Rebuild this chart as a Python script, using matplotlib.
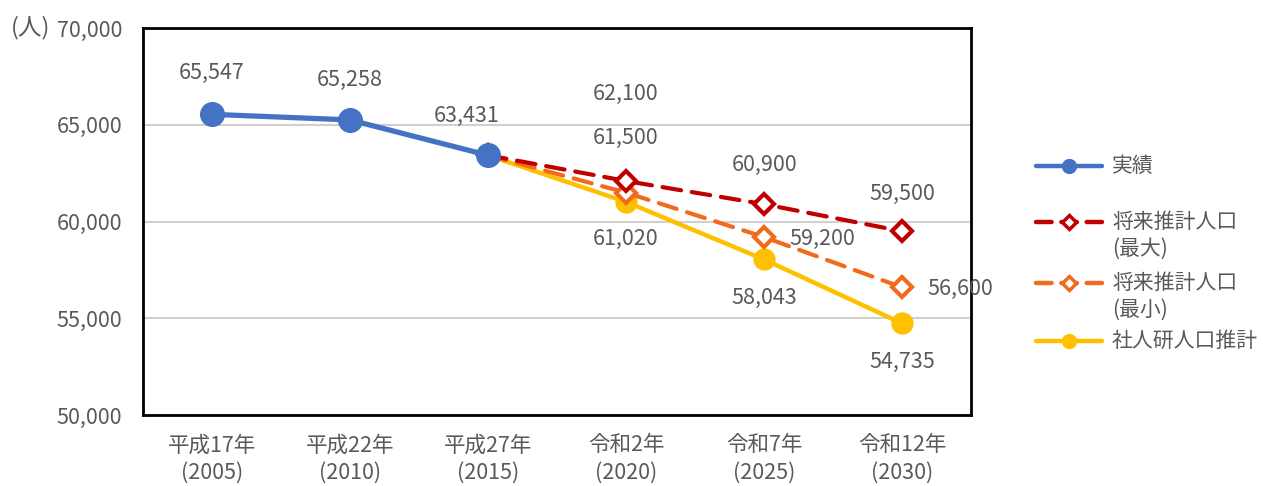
import matplotlib
matplotlib.use("Agg")
import matplotlib.pyplot as plt
from matplotlib.lines import Line2D

plt.rcParams['font.family'] = ['Noto Sans CJK JP', 'DejaVu Sans']

categories = ["平成17年\n(2005)", "平成22年\n(2010)", "平成27年\n(2015)",
              "令和2年\n(2020)", "令和7年\n(2025)", "令和12年\n(2030)"]
actual_idx = [0, 1, 2]
actual = [65547, 65258, 63431]
proj_idx = [2, 3, 4, 5]
proj_max = [63431, 62100, 60900, 59500]
proj_min = [63431, 61500, 59200, 56600]
ipss = [63431, 61020, 58043, 54735]

names = ["実績", "将来推計人口\n(最大)", "将来推計人口\n(最小)", "社人研人口推計"]

c_blue = "#4472C4"
c_red = "#C00000"
c_orange = "#F26B1D"
c_yellow = "#FFC000"
c_text = "#595959"
FS = 15.5

fig = plt.figure(figsize=(12.63, 4.86), dpi=100)
ax = fig.add_axes([0.113, 0.146, 0.656, 0.796])

ax.plot(proj_idx, ipss, color=c_yellow, lw=3.2, marker='o', ms=15, zorder=3)
ax.plot(proj_idx, proj_min, color=c_orange, lw=3, dashes=(4.5, 2.6),
        dash_capstyle='round', marker='D', ms=10, mfc='white', mec=c_orange, mew=3, zorder=4)
ax.plot(proj_idx, proj_max, color=c_red, lw=3, dashes=(4.5, 2.6),
        dash_capstyle='round', marker='D', ms=10, mfc='white', mec=c_red, mew=3, zorder=5)
ax.plot(actual_idx, actual, color=c_blue, lw=3.8, marker='o', ms=17, zorder=6)

yt = [50000, 55000, 60000, 65000, 70000]
ax.set_xlim(-0.5, 5.5)
ax.set_ylim(50000, 70000)
ax.set_yticks(yt)
ax.set_yticklabels([f"{v:,}" for v in yt])
ax.set_xticks(range(len(categories)))
ax.set_xticklabels(categories, linespacing=1.3)
ax.tick_params(length=0, labelsize=FS, colors=c_text)
ax.tick_params(axis='x', pad=14)
ax.tick_params(axis='y', pad=15)
ax.grid(axis='y', color='#D0D0D0', lw=1.5)
ax.set_axisbelow(True)
for s in ax.spines.values():
    s.set_color('black')
    s.set_linewidth(2)

def lab(x, y, txt, dx, dy):
    ax.annotate(txt, (x, y), xytext=(dx, dy), textcoords='offset points',
                ha='center', va='center', fontsize=FS, color=c_text, zorder=10)

fmt = lambda v: f"{v:,}"
lab(0, actual[0], fmt(actual[0]), 0, 30)
lab(1, actual[1], fmt(actual[1]), 0, 29)
lab(2, actual[2], fmt(actual[2]), -15, 28)
lab(3, proj_max[1], fmt(proj_max[1]), 0, 63)
lab(3, proj_min[1], fmt(proj_min[1]), 0, 39)
lab(3, ipss[1], fmt(ipss[1]), 0, -27)
lab(4, proj_max[2], fmt(proj_max[2]), 0, 28)
lab(4, proj_min[2], fmt(proj_min[2]), 42, -1)
lab(4, ipss[2], fmt(ipss[2]), 0, -28)
lab(5, proj_max[3], fmt(proj_max[3]), 0, 27)
lab(5, proj_min[3], fmt(proj_min[3]), 42, -1)
lab(5, ipss[3], fmt(ipss[3]), 0, -28)

fig.text(11/1263, 1 - 28/486, "(人)", fontsize=17, color=c_text, va='center', ha='left')

# legend
leg_items = [
    (c_blue, '-', 'o', c_blue, 166),
    (c_red, '--', 'D', 'white', 222),
    (c_orange, '--', 'D', 'white', 283),
    (c_yellow, '-', 'o', c_yellow, 341),
]
W, H = 1263, 486
for (col, ls, mk, fc, ypx), name in zip(leg_items, names):
    y = 1 - ypx / H
    kw = dict(color=col, lw=3.2, transform=fig.transFigure, dash_capstyle='round',
              solid_capstyle='round')
    if ls == '--':
        kw['dashes'] = (3.5, 2.2)
    fig.add_artist(Line2D([1036/W, 1102/W], [y, y], **kw))
    fig.add_artist(Line2D([1069/W], [y], marker=mk, ms=(11 if mk == 'o' else 7),
                          mfc=fc, mec=col, mew=(0 if mk == 'o' else 2.5),
                          color=col, transform=fig.transFigure))
    fig.text(1112/W, y, name.split("\n")[0], fontsize=15, color=c_text, va='center', ha='left')
    if "\n" in name:
        fig.text(1112/W, 1 - (ypx + 27) / H, name.split("\n")[1], fontsize=15,
                 color=c_text, va='center', ha='left')

fig.savefig("out.png", dpi=100)
